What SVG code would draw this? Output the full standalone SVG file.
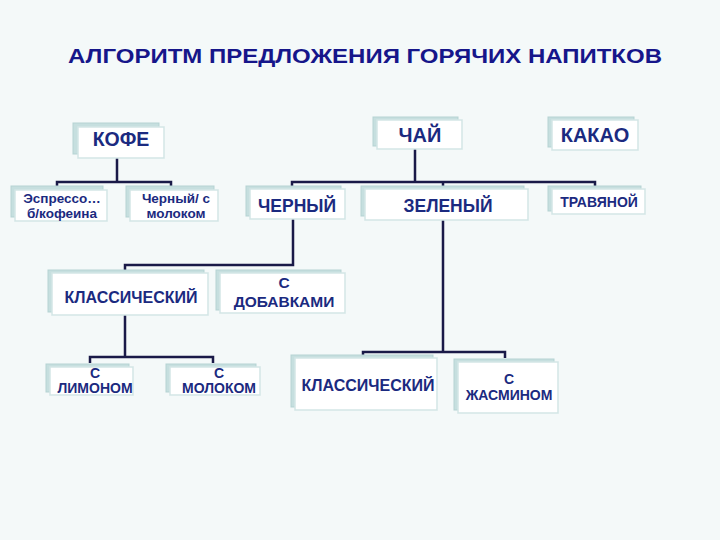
<svg xmlns="http://www.w3.org/2000/svg" width="720" height="540" viewBox="0 0 720 540">
<style>
.bg{fill:#f4f9f9}
.sh{fill:#c6dfdf;stroke:#b5d3d3;stroke-width:1}
.fr{fill:#ffffff;stroke:#d3e6e6;stroke-width:1.5}
.t{font-family:"Liberation Sans",Arial,sans-serif;font-weight:bold;fill:#1b2a80;text-anchor:middle}
.title{font-family:"Liberation Sans",Arial,sans-serif;font-weight:bold;fill:#16168a;font-size:21px}
.c{fill:none;stroke:#1a1a48;stroke-width:2.5}
</style>
<rect class="bg" x="0" y="0" width="720" height="540"/>
<text class="title" x="68" y="63" textLength="594" lengthAdjust="spacingAndGlyphs">АЛГОРИТМ ПРЕДЛОЖЕНИЯ ГОРЯЧИХ НАПИТКОВ</text>
<g id="connectors">
<path class="c" d="M117 158V182M57 186V182H171V186"/>
<path class="c" d="M415 148V182M292 187V182H595V186M443 182V188"/>
<path class="c" d="M293 218V265H125V272"/>
<path class="c" d="M125 315V357M90 363V357H213V363"/>
<path class="c" d="M443 220V352M363 357V352H505V358"/>
</g>
<g id="kofe"><rect class="sh" x="73" y="123" width="86" height="31"/><rect class="fr" x="78" y="127" width="86" height="31"/><text class="t" x="121" y="146" font-size="19.5">КОФЕ</text></g>
<g id="espresso"><rect class="sh" x="11" y="186" width="92" height="31"/><rect class="fr" x="15" y="190" width="92" height="31"/><text class="t" x="62" y="203" font-size="13.5">Эспрессо…</text><text class="t" x="62" y="218" font-size="13.5">б/кофеина</text></g>
<g id="cherny-moloko"><rect class="sh" x="126" y="186" width="88" height="31"/><rect class="fr" x="130" y="190" width="88" height="31"/><text class="t" x="176" y="203" font-size="13.5">Черный/ с</text><text class="t" x="176" y="218" font-size="13.5">молоком</text></g>
<g id="chai"><rect class="sh" x="373" y="117" width="85" height="29"/><rect class="fr" x="377" y="120" width="85" height="29"/><text class="t" x="420" y="142" font-size="20">ЧАЙ</text></g>
<g id="kakao"><rect class="sh" x="548" y="117" width="86" height="30"/><rect class="fr" x="552" y="120" width="86" height="30"/><text class="t" x="595" y="142" font-size="20">КАКАО</text></g>
<g id="cherny"><rect class="sh" x="246" y="186" width="95" height="30"/><rect class="fr" x="250" y="189" width="95" height="30"/><text class="t" x="297" y="212" font-size="17.5">ЧЕРНЫЙ</text></g>
<g id="zeleny"><rect class="sh" x="361" y="186" width="163" height="30"/><rect class="fr" x="365" y="189" width="163" height="31"/><text class="t" x="448" y="212" font-size="17.5">ЗЕЛЕНЫЙ</text></g>
<g id="travyanoy"><rect class="sh" x="548" y="186" width="93" height="25"/><rect class="fr" x="552" y="189" width="93" height="25"/><text class="t" x="599" y="207" font-size="14">ТРАВЯНОЙ</text></g>
<g id="klass1"><rect class="sh" x="48" y="270" width="156" height="42"/><rect class="fr" x="52" y="273" width="156" height="42"/><text class="t" x="131" y="303" font-size="16">КЛАССИЧЕСКИЙ</text></g>
<g id="dobavki"><rect class="sh" x="216" y="270" width="125" height="40"/><rect class="fr" x="220" y="273" width="125" height="40"/><text class="t" x="284" y="288" font-size="15.5">С</text><text class="t" x="284" y="307" font-size="15.5">ДОБАВКАМИ</text></g>
<g id="limon"><rect class="sh" x="46" y="364" width="83" height="28"/><rect class="fr" x="50" y="367" width="83" height="28"/><text class="t" x="95" y="378" font-size="14">С</text><text class="t" x="95" y="393" font-size="14">ЛИМОНОМ</text></g>
<g id="moloko"><rect class="sh" x="166" y="364" width="90" height="28"/><rect class="fr" x="170" y="367" width="90" height="28"/><text class="t" x="219" y="378" font-size="14">С</text><text class="t" x="219" y="393" font-size="14">МОЛОКОМ</text></g>
<g id="klass2"><rect class="sh" x="291" y="355" width="142" height="52"/><rect class="fr" x="295" y="358" width="142" height="52"/><text class="t" x="368" y="391" font-size="16">КЛАССИЧЕСКИЙ</text></g>
<g id="jasmin"><rect class="sh" x="454" y="359" width="100" height="51"/><rect class="fr" x="458" y="362" width="100" height="51"/><text class="t" x="509" y="384" font-size="14">С</text><text class="t" x="509" y="400" font-size="14">ЖАСМИНОМ</text></g>
</svg>
